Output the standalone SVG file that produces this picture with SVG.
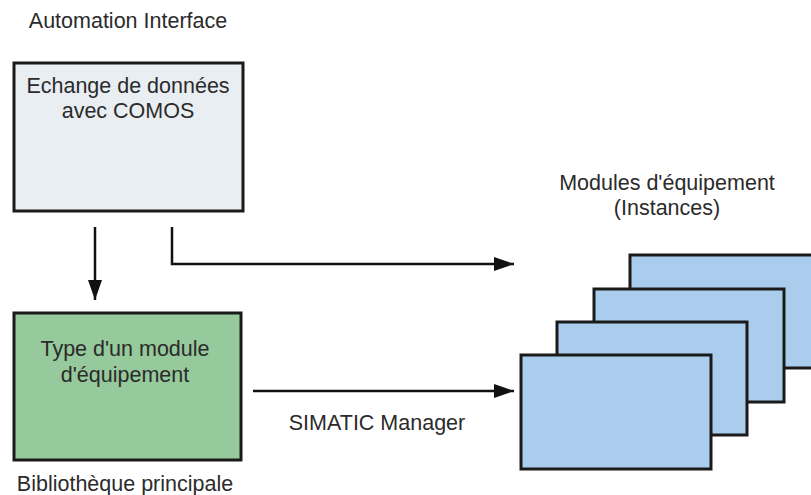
<svg xmlns="http://www.w3.org/2000/svg" width="811" height="495" viewBox="0 0 811 495">
<style>
text{font-family:"Liberation Sans",Arial,sans-serif;font-size:21.5px;fill:#2b2b2b;text-anchor:middle}
.box{stroke:#1a1a1a;stroke-width:3}
.blue{fill:#aacdee}
.conn{stroke:#111;stroke-width:2.5;fill:none}
</style>
<defs>
<marker id="arr" markerWidth="20" markerHeight="14" refX="20" refY="7" orient="auto" markerUnits="userSpaceOnUse">
<path d="M0,0 L20,7 L0,14 Z" fill="#111"/>
</marker>
</defs>
<rect width="811" height="495" fill="#fff"/>
<text x="128" y="28">Automation Interface</text>
<g id="comos">
<rect class="box" x="14" y="63" width="229" height="148" fill="#e9eef3"/>
<text x="128" y="93">Echange de données</text>
<text x="128" y="118">avec COMOS</text>
</g>
<g id="type">
<rect class="box" x="14" y="313" width="227" height="147" fill="#96c99b"/>
<text x="125" y="356">Type d'un module</text>
<text x="125" y="382">d'équipement</text>
<text x="125" y="491">Bibliothèque principale</text>
</g>
<g id="instances">
<text x="667" y="190">Modules d'équipement</text>
<text x="667" y="215">(Instances)</text>
<rect class="box blue" x="630" y="255" width="195" height="113"/>
<rect class="box blue" x="594" y="289" width="190" height="113"/>
<rect class="box blue" x="557" y="322" width="190" height="113"/>
<rect class="box blue" x="521" y="355" width="190" height="114"/>
</g>
<g id="connectors">
<line class="conn" x1="95" y1="227" x2="95" y2="300" marker-end="url(#arr)"/>
<polyline class="conn" points="172,227 172,264 514,264" marker-end="url(#arr)"/>
<line class="conn" x1="253" y1="391" x2="514" y2="391" marker-end="url(#arr)"/>
<text x="377" y="430">SIMATIC Manager</text>
</g>
</svg>
